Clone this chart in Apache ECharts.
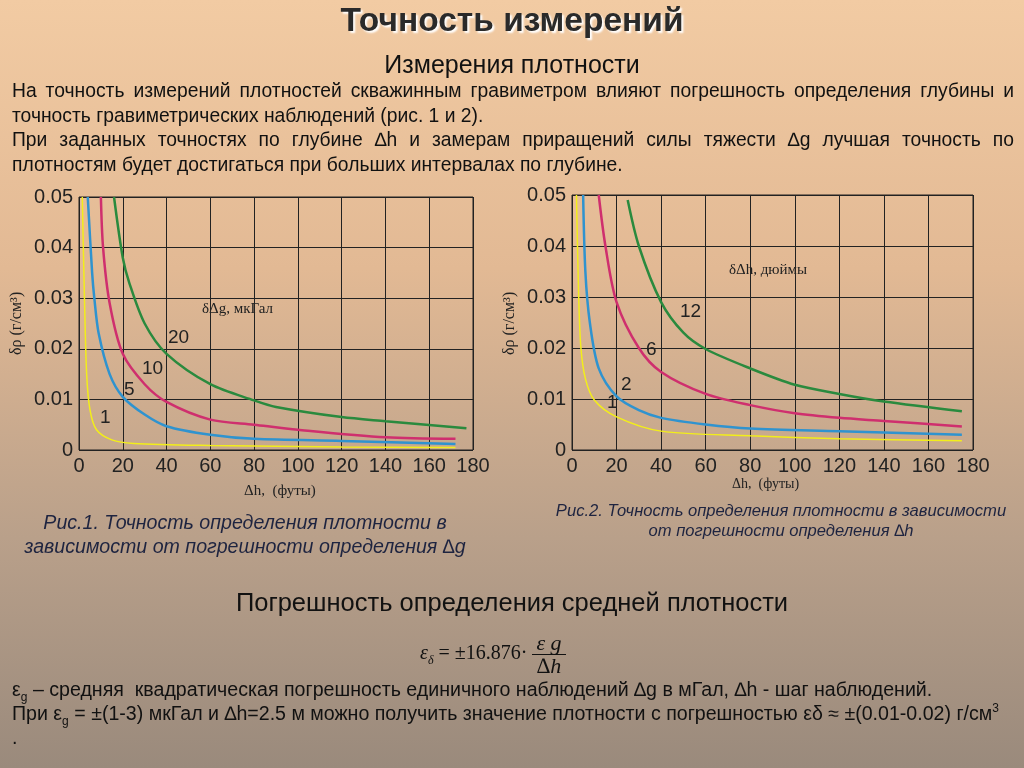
<!DOCTYPE html>
<html><head><meta charset="utf-8">
<script src="https://cdn.jsdelivr.net/npm/echarts@6/dist/echarts.min.js"></script>
<style>
body{margin:0;width:1024px;height:768px;overflow:hidden;background:linear-gradient(#f2cba3 0%,#e2b994 35%,#b9a08a 70%,#9a8a7c 100%);font-family:"Liberation Sans",Arial,sans-serif;color:#111;position:relative}
#chart{position:absolute;left:0;top:0;width:1024px;height:768px}
.t{position:absolute;z-index:2}
sub,sup{line-height:0;font-size:12px}
.frac{display:inline-block;vertical-align:middle;text-align:center;font-family:"Liberation Serif";font-style:italic;font-size:22px;line-height:22px}
.frac span{display:block;padding:0 4px}
</style></head>
<body>
<div id="chart"></div>
<div class="t" style="left:0;width:1024px;top:1px;text-align:center;font-size:33.5px;font-weight:bold;color:#2a2a2a;text-shadow:2px 2px 2px #fff">Точность измерений</div>
<div class="t" style="left:0;width:1024px;top:50px;text-align:center;font-size:25px">Измерения плотности</div>
<div class="t" style="left:12px;width:1002px;top:79px;font-size:19.3px;line-height:24.5px;text-align:justify">На точность измерений плотностей скважинным гравиметром влияют погрешность определения глубины и точность гравиметрических наблюдений (рис. 1 и 2).<br>При заданных точностях по глубине ∆h и замерам приращений силы тяжести ∆g лучшая точность по плотностям будет достигаться при больших интервалах по глубине.</div>
<div class="t" style="left:5px;width:480px;top:510px;text-align:center;font-size:19.6px;font-style:italic;line-height:24px;color:#1e2440">Рис.1. Точность определения плотности в зависимости от погрешности определения ∆g</div>
<div class="t" style="left:545px;width:472px;top:501px;text-align:center;font-size:16.6px;font-style:italic;line-height:20px;color:#1e2440">Рис.2. Точность определения плотности в зависимости от погрешности определения ∆h</div>
<div class="t" style="left:0;width:1024px;top:588px;text-align:center;font-size:25.5px">Погрешность определения средней плотности</div>
<div class="t" style="left:420px;top:632px;font-family:'Liberation Serif';font-size:20px;white-space:nowrap"><i>ε</i><sub><i>δ</i></sub> = ±16.876· <span class="frac"><span style="border-bottom:1px solid #111">ε g</span><span>∆h</span></span></div>
<div class="t" style="left:12px;width:1008px;top:677px;font-size:19.6px;line-height:24px">ε<sub>g</sub> – средняя &nbsp;квадратическая погрешность единичного наблюдений ∆g в мГал, ∆h - шаг наблюдений.<br><span style="white-space:nowrap">При ε<sub>g</sub> = ±(1-3) мкГал и ∆h=2.5 м можно получить значение плотности с погрешностью εδ ≈ ±(0.01-0.02) г/см<sup>3</sup></span><br>.</div>
<script>
// Рис.1: кривые для δΔg, мкГал
var g1 = [[1.5,0.05],[2.5,0.03],[3.5,0.015],[5,0.008],[8,0.004],[15,0.002],[25,0.0013],[60,0.0009],[120,0.0006],[172,0.0005]];
var g5 = [[4,0.05],[6,0.035],[7,0.03],[9,0.023],[14,0.015],[20,0.0105],[30,0.007],[40,0.0047],[60,0.003],[80,0.0022],[120,0.0018],[172,0.0012]];
var g10 = [[10,0.05],[11,0.04],[14,0.029],[20,0.019],[30,0.013],[40,0.0095],[60,0.006],[80,0.005],[100,0.004],[140,0.0025],[172,0.0022]];
var g20 = [[16,0.05],[20,0.038],[23,0.033],[30,0.025],[40,0.019],[60,0.013],[80,0.0098],[90,0.0085],[120,0.0065],[140,0.0057],[177,0.0043]];
// Рис.2: кривые для δΔh, дюймы
var h1 = [[2,0.05],[3,0.03],[4,0.02],[6,0.014],[10,0.0098],[20,0.0065],[40,0.0037],[80,0.0028],[120,0.0022],[175,0.0018]];
var h2 = [[5,0.05],[6,0.035],[8,0.025],[12,0.016],[20,0.0105],[30,0.0078],[40,0.0063],[60,0.005],[80,0.0042],[120,0.0037],[175,0.003]];
var h6 = [[12,0.05],[15,0.04],[20,0.029],[30,0.02],[40,0.0153],[60,0.011],[80,0.0088],[100,0.0072],[120,0.0063],[140,0.0057],[175,0.0046]];
var h12 = [[25,0.049],[30,0.04],[40,0.029],[50,0.023],[60,0.0198],[80,0.016],[100,0.0128],[120,0.011],[140,0.0095],[175,0.0076]];

var colors = ["#f2ee1a", "#2f93cf", "#cf2f6e", "#2a8a3e"];
var widths = [1.5, 2.5, 2.5, 2.5];

function xAxis(i) {
    return {
        gridIndex: i, type: 'value', min: 0, max: 180, interval: 20,
        axisLine: {show: false}, axisTick: {show: false},
        splitLine: {lineStyle: {color: "#222", width: 1}},
        axisLabel: {color: "#222", fontSize: 20, margin: 6}
    };
}
function yAxis(i) {
    return {
        gridIndex: i, type: 'value', min: 0, max: 0.05, interval: 0.01,
        axisLine: {show: false}, axisTick: {show: false},
        splitLine: {lineStyle: {color: "#222", width: 1}},
        axisLabel: {color: "#222", fontSize: 20, margin: 6,
            formatter: function (v) { return v === 0 ? "0" : v.toFixed(2); }}
    };
}
function line(data, i, k) {
    return {
        type: 'line', xAxisIndex: i, yAxisIndex: i, data: data, smooth: 0.3,
        showSymbol: false, lineStyle: {color: colors[k], width: widths[k]}
    };
}
function txt(x, y, s) {
    return {type: 'text', left: x, top: y, z: 10, style: {text: s, fontSize: 19, fill: "#222"}};
}

var myChart = echarts.init(document.getElementById('chart'));
var option = {
    animation: false,
    grid: [
        {left: 79, top: 197, width: 394, height: 253, show: true, borderColor: "#222", borderWidth: 1},
        {left: 572, top: 195, width: 401, height: 255, show: true, borderColor: "#222", borderWidth: 1}
    ],
    xAxis: [xAxis(0), xAxis(1)],
    yAxis: [yAxis(0), yAxis(1)],
    series: [
        line(g1, 0, 0), line(g5, 0, 1), line(g10, 0, 2), line(g20, 0, 3),
        line(h1, 1, 0), line(h2, 1, 1), line(h6, 1, 2), line(h12, 1, 3)
    ],
    graphic: [
        txt(100, 408, "1"), txt(124, 380, "5"), txt(142, 359, "10"), txt(168, 328, "20"),
        {type: 'text', left: 202, top: 302, style: {text: "δΔg, мкГал", font: "15px 'Liberation Serif'", fill: "#222"}},
        {type: 'text', left: 244, top: 484, style: {text: "Δh,  (футы)", font: "15px 'Liberation Serif'", fill: "#222"}},
        {type: 'text', x: 9, y: 355, rotation: Math.PI / 2, style: {text: "δρ (г/см³)", font: "16px 'Liberation Serif'", fill: "#222"}},
        txt(607, 393, "1"), txt(621, 375, "2"), txt(646, 340, "6"), txt(680, 302, "12"),
        {type: 'text', left: 729, top: 263, style: {text: "δΔh, дюймы", font: "15px 'Liberation Serif'", fill: "#222"}},
        {type: 'text', left: 732, top: 477, style: {text: "Δh,  (футы)", font: "14px 'Liberation Serif'", fill: "#222"}},
        {type: 'text', x: 502, y: 355, rotation: Math.PI / 2, style: {text: "δρ (г/см³)", font: "16px 'Liberation Serif'", fill: "#222"}}
    ]
};
myChart.setOption(option);
</script>
</body></html>
